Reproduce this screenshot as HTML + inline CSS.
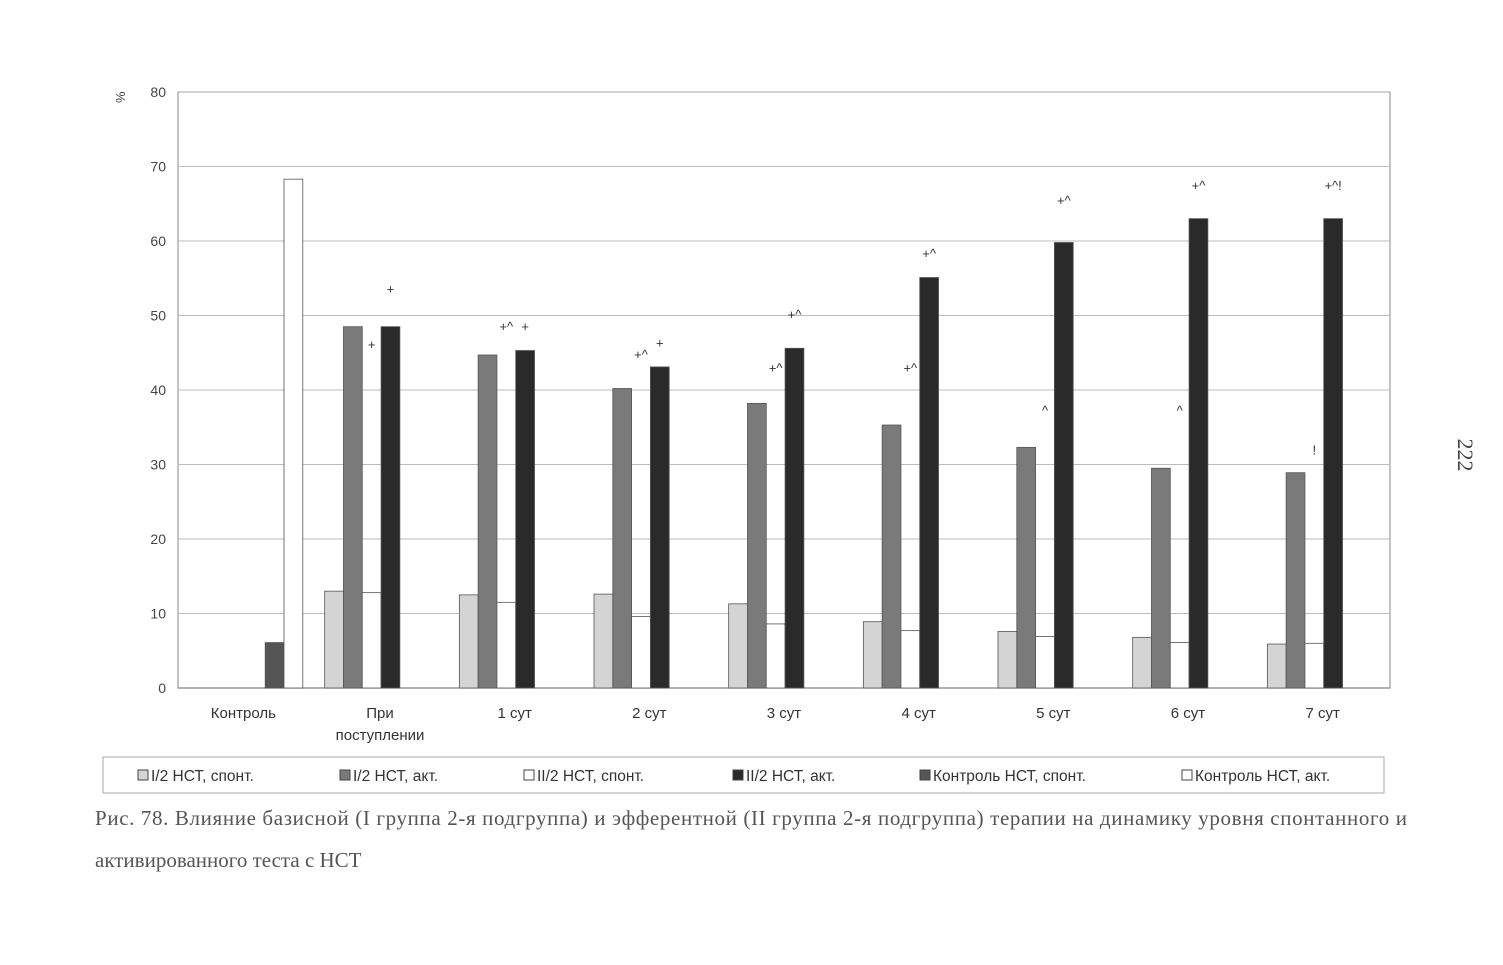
<!DOCTYPE html>
<html><head><meta charset="utf-8"><style>
body{margin:0;background:#fff;width:1503px;height:960px;overflow:hidden;font-family:"Liberation Sans",sans-serif}
</style></head><body>
<svg id="chart" width="1503" height="960" xmlns="http://www.w3.org/2000/svg">
<text x="1458" y="455" font-family="Liberation Serif" font-size="22" fill="#444" transform="rotate(90 1458 455)" text-anchor="middle">222</text>
<text x="95" y="825" font-family="Liberation Serif" font-size="21" fill="#555" textLength="1312" lengthAdjust="spacing">Рис. 78. Влияние базисной (I группа 2-я подгруппа) и эфферентной (II группа 2-я подгруппа) терапии на динамику уровня спонтанного и</text>
<text x="95" y="867" font-family="Liberation Serif" font-size="21" fill="#555">активированного теста с НСТ</text>
</svg>
<script>
const categories=["Контроль","При|поступлении","1 сут","2 сут","3 сут","4 сут","5 сут","6 сут","7 сут"];
const seriesNames=["I/2 НСТ, спонт.","I/2 НСТ, акт.","II/2 НСТ, спонт.","II/2 НСТ, акт.","Контроль НСТ, спонт.","Контроль НСТ, акт."];
const s1=[null,13.0,12.5,12.6,11.3,8.9,7.6,6.8,5.9];
const s2=[null,48.5,44.7,40.2,38.2,35.3,32.3,29.5,28.9];
const s3=[null,12.8,11.5,9.6,8.6,7.7,6.9,6.1,6.0];
const s4=[null,48.5,45.3,43.1,45.6,55.1,59.8,63.0,63.0];
const s5=[6.1,null,null,null,null,null,null,null,null];
const s6=[68.3,null,null,null,null,null,null,null,null];
const yTicks=[0,10,20,30,40,50,60,70,80];
const ann2=["","+","+^","+^","+^","+^","^","^","!"];
const ann2Level=[0,46.2,48.6,44.8,43.0,43.0,37.3,37.3,32.0];
const ann4=["","+","+","+","+^","+^","+^","+^","+^!"];
const ann4Level=[0,53.6,48.6,46.4,50.2,58.4,65.5,67.5,67.5];
const series=[s1,s2,s3,s4,s5,s6];
const fills=["#d4d4d4","#7a7a7a","#ffffff","#2a2a2a","#555555","#ffffff"];
const NS="http://www.w3.org/2000/svg";
const svg=document.getElementById('chart');
const X0=178,X1=1390,Y0=688,Y80=92;
const y=v=>Y0-(v/80)*(Y0-Y80);
const gw=(X1-X0)/categories.length;
const bw=18.8;
const bx=(c,s)=>X0+c*gw+12+s*bw;
function mk(t,a){const e=document.createElementNS(NS,t);for(const k in a)e.setAttribute(k,a[k]);svg.appendChild(e);return e;}
const frame=mk('rect',{x:X0,y:Y80,width:X1-X0,height:Y0-Y80,fill:'none',stroke:'#999','stroke-width':1.2});


yTicks.forEach(t=>{
 const l=mk('line',{x1:X0,x2:X1,y1:y(t),y2:y(t),stroke:t===0?'#777':'#bbb','stroke-width':1});
 
 
 const tx=mk('text',{x:166,y:y(t)+5,'text-anchor':'end','font-size':14,fill:'#444'});
 tx.textContent=t;
 
 
});
const pct=mk('text',{x:118,y:100,'font-size':13,fill:'#444',transform:'rotate(-90 123 98)'});pct.textContent='%';


categories.forEach((c,i)=>{
 const parts=c.split('|');
 parts.forEach((p,j)=>{
  const t=mk('text',{x:X0+gw*(i+0.5)+(i===0?-2:0),y:718+j*22,'text-anchor':'middle','font-size':15,fill:'#333'});
  t.textContent=p;
  
  
 });
});
series.forEach((s,si)=>{
 s.forEach((v,ci)=>{
  if(v==null)return;
  const r=mk('rect',{x:bx(ci,si),y:y(v),width:bw,height:Y0-y(v),fill:fills[si],stroke:'#555','stroke-width':0.8});
  
  
 });
});
function annot(arr,lv,si){arr.forEach((a,ci)=>{if(!a)return;
 const t=mk('text',{x:bx(ci,si)+bw/2,y:y(lv[ci])+5,'text-anchor':'middle','font-size':13,fill:'#333'});
 t.textContent=a;
 
 });}
annot(ann2,ann2Level,2);annot(ann4,ann4Level,3);
const lg=mk('rect',{x:103,y:757,width:1281,height:36,fill:'#fff',stroke:'#aaa','stroke-width':1});


const lx=[138,340,524,733,920,1182];
seriesNames.forEach((n,i)=>{
 const b=mk('rect',{x:lx[i],y:770,width:10,height:10,fill:fills[i],stroke:'#444','stroke-width':1});
 
 
 const t=mk('text',{x:lx[i]+13,y:781,'font-size':15.5,fill:'#333'});
 t.textContent=n;
 
 
});
</script>
</body></html>
